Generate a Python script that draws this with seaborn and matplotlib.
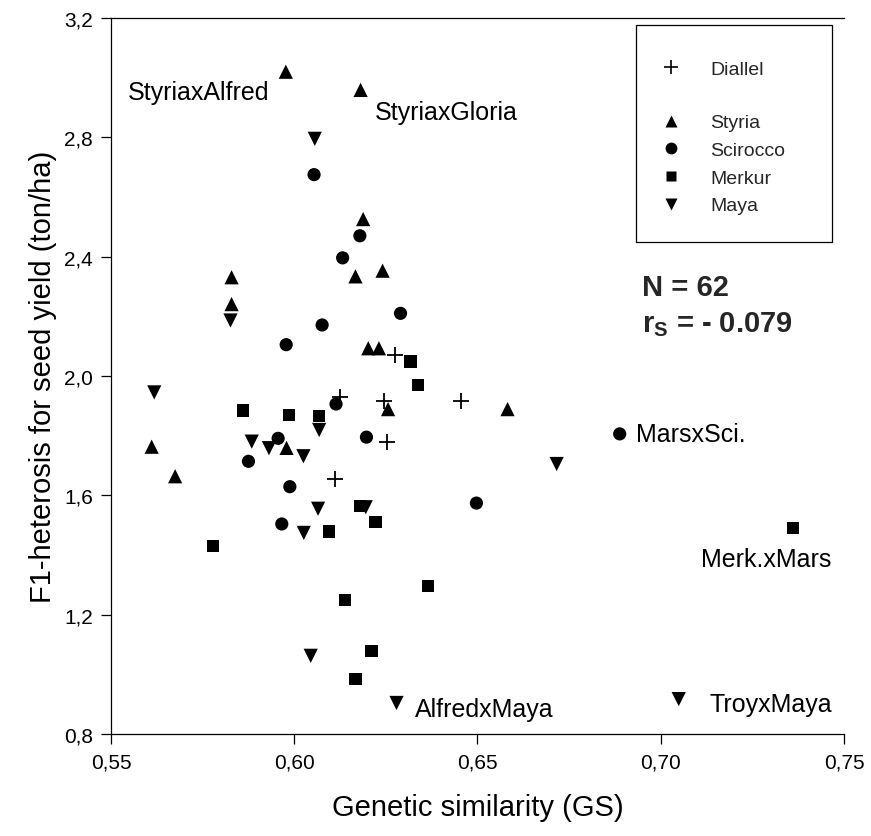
import matplotlib
matplotlib.use("Agg")
import matplotlib.pyplot as plt
import seaborn as sns
import pandas as pd
from matplotlib.ticker import FixedLocator, FuncFormatter
from matplotlib.lines import Line2D
from matplotlib.patches import Rectangle

# ---------------- data ----------------
diallel_gs = [0.6275, 0.6125, 0.6245, 0.6456, 0.6254, 0.6111]
diallel_het = [2.071, 1.929, 1.915, 1.915, 1.780, 1.655]

styria_gs = [0.5977, 0.6181, 0.6188, 0.5829, 0.5829, 0.6167, 0.6241, 0.6202,
             0.6231, 0.6256, 0.6582, 0.5611, 0.5979, 0.5675]
styria_het = [3.020, 2.959, 2.526, 2.331, 2.241, 2.334, 2.353, 2.093,
              2.093, 1.889, 1.889, 1.763, 1.759, 1.664]

scirocco_gs = [0.6054, 0.6179, 0.6132, 0.6290, 0.6076, 0.5978, 0.6114, 0.6197,
               0.5956, 0.5875, 0.5988, 0.5966, 0.6497, 0.6888]
scirocco_het = [2.675, 2.470, 2.396, 2.210, 2.171, 2.105, 1.906, 1.795,
                1.791, 1.714, 1.629, 1.504, 1.574, 1.806]

merkur_gs = [0.6317, 0.6338, 0.5861, 0.5985, 0.6068, 0.6179, 0.6222, 0.6095,
             0.5779, 0.6365, 0.6138, 0.6211, 0.6167, 0.7360]
merkur_het = [2.049, 1.970, 1.884, 1.869, 1.866, 1.565, 1.510, 1.479,
              1.429, 1.295, 1.249, 1.079, 0.984, 1.490]

maya_gs = [0.6056, 0.5826, 0.5618, 0.6068, 0.5884, 0.5931, 0.6025, 0.6065,
           0.6195, 0.6026, 0.6045, 0.6279, 0.6716, 0.7049]
maya_het = [2.795, 2.186, 1.945, 1.819, 1.780, 1.758, 1.731, 1.555,
            1.560, 1.474, 1.062, 0.904, 1.705, 0.917]

groups = ["Diallel", "Styria", "Scirocco", "Merkur", "Maya"]

annot_labels = ["StyriaxAlfred", "StyriaxGloria", "MarsxSci.", "Merk.xMars", "AlfredxMaya", "TroyxMaya"]
annot_x = [0.5546, 0.6220, 0.6933, 0.7111, 0.6329, 0.7134]
annot_y = [2.952, 2.885, 1.806, 1.387, 0.884, 0.900]

x_ticks = [0.55, 0.60, 0.65, 0.70, 0.75]
y_ticks = [0.8, 1.2, 1.6, 2.0, 2.4, 2.8, 3.2]

# ---------------- style ----------------
sns.set_style("white")
plt.rcParams["font.family"] = ["Liberation Sans", "DejaVu Sans"]
plt.rcParams["mathtext.fontset"] = "custom"
plt.rcParams["mathtext.rm"] = "Liberation Sans"
plt.rcParams["mathtext.bf"] = "Liberation Sans:bold"

frames = {
    "Diallel": pd.DataFrame({"gs": diallel_gs, "het": diallel_het}),
    "Styria": pd.DataFrame({"gs": styria_gs, "het": styria_het}),
    "Scirocco": pd.DataFrame({"gs": scirocco_gs, "het": scirocco_het}),
    "Merkur": pd.DataFrame({"gs": merkur_gs, "het": merkur_het}),
    "Maya": pd.DataFrame({"gs": maya_gs, "het": maya_het}),
}
markers = {"Diallel": "+", "Styria": "^", "Scirocco": "o", "Merkur": "s", "Maya": "v"}
sizes = {"Diallel": 120, "Styria": 105, "Scirocco": 90, "Merkur": 78, "Maya": 105}

fig = plt.figure(figsize=(8.71, 8.37), dpi=100)
ax = fig.add_axes([111 / 871, 1 - 735 / 837, 733 / 871, 716 / 837])

for g in groups:
    df = frames[g]
    if markers[g] == "+":
        sns.scatterplot(data=df, x="gs", y="het", marker="+", s=sizes[g],
                        color="black", linewidth=1.3, ax=ax, zorder=3, clip_on=False)
    else:
        sns.scatterplot(data=df, x="gs", y="het", marker=markers[g], s=sizes[g],
                        color="black", edgecolor="none", ax=ax, zorder=3, clip_on=False)

ax.set_xlim(0.55, 0.75)
ax.set_ylim(0.8, 3.2)
ax.xaxis.set_major_locator(FixedLocator(x_ticks))
ax.yaxis.set_major_locator(FixedLocator(y_ticks))
ax.xaxis.set_major_formatter(FuncFormatter(lambda v, p: f"{v:.2f}".replace(".", ",")))
ax.yaxis.set_major_formatter(FuncFormatter(lambda v, p: f"{v:.1f}".replace(".", ",")))
ax.tick_params(axis="both", direction="out", length=7, width=0.9, color="black",
               labelsize=15, labelcolor="black", pad=6, bottom=True, left=True)
for side in ["left", "bottom", "top"]:
    ax.spines[side].set_visible(True)
    ax.spines[side].set_color("black")
    ax.spines[side].set_linewidth(0.9)
ax.spines["right"].set_visible(False)

ax.set_xlabel("Genetic similarity (GS)", fontsize=21, labelpad=16, color="black")
ax.set_ylabel("F1-heterosis for seed yield (ton/ha)", fontsize=21, labelpad=5, color="black")

for lab, xx, yy in zip(annot_labels, annot_x, annot_y):
    ax.text(xx, yy, lab, fontsize=18, ha="left", va="center", color="black")

ax.text(0.695, 2.30, "N = 62", fontsize=21, fontweight="bold", ha="left", va="center")
ax.text(0.695, 2.175, r"$\mathbf{r}_{\mathbf{S}}$ = - 0.079", fontsize=21,
        fontweight="bold", ha="left", va="center")

# legend: box + two legends (Diallel separated by larger gap)
ax.add_patch(Rectangle((0.716, 0.687), 0.268, 0.303, transform=ax.transAxes,
                       facecolor="white", edgecolor="black", linewidth=0.9, zorder=4))

def handle(g):
    if markers[g] == "+":
        return Line2D([], [], linestyle="none", marker="+", markersize=10,
                      markeredgewidth=1.2, color="black")
    ms = {"^": 8, "o": 8.5, "s": 7.5, "v": 8}[markers[g]]
    return Line2D([], [], linestyle="none", marker=markers[g], markersize=ms,
                  color="black", markeredgecolor="none")

leg1 = ax.legend([handle("Diallel")], ["Diallel"], loc="center left",
                 bbox_to_anchor=(0.735, (735 - 70) / 716), frameon=False,
                 fontsize=14, handlelength=1.2, handletextpad=1.4, borderpad=0)
leg1.set_zorder(5)
ax.add_artist(leg1)
others = ["Styria", "Scirocco", "Merkur", "Maya"]
leg2 = ax.legend([handle(g) for g in others], others, loc="upper left",
                 bbox_to_anchor=(0.735, (735 - 105) / 716), frameon=False,
                 fontsize=14, handlelength=1.2, handletextpad=1.4, borderpad=0,
                 labelspacing=0.52)
leg2.set_zorder(5)

fig.savefig("out.png", dpi=100)
